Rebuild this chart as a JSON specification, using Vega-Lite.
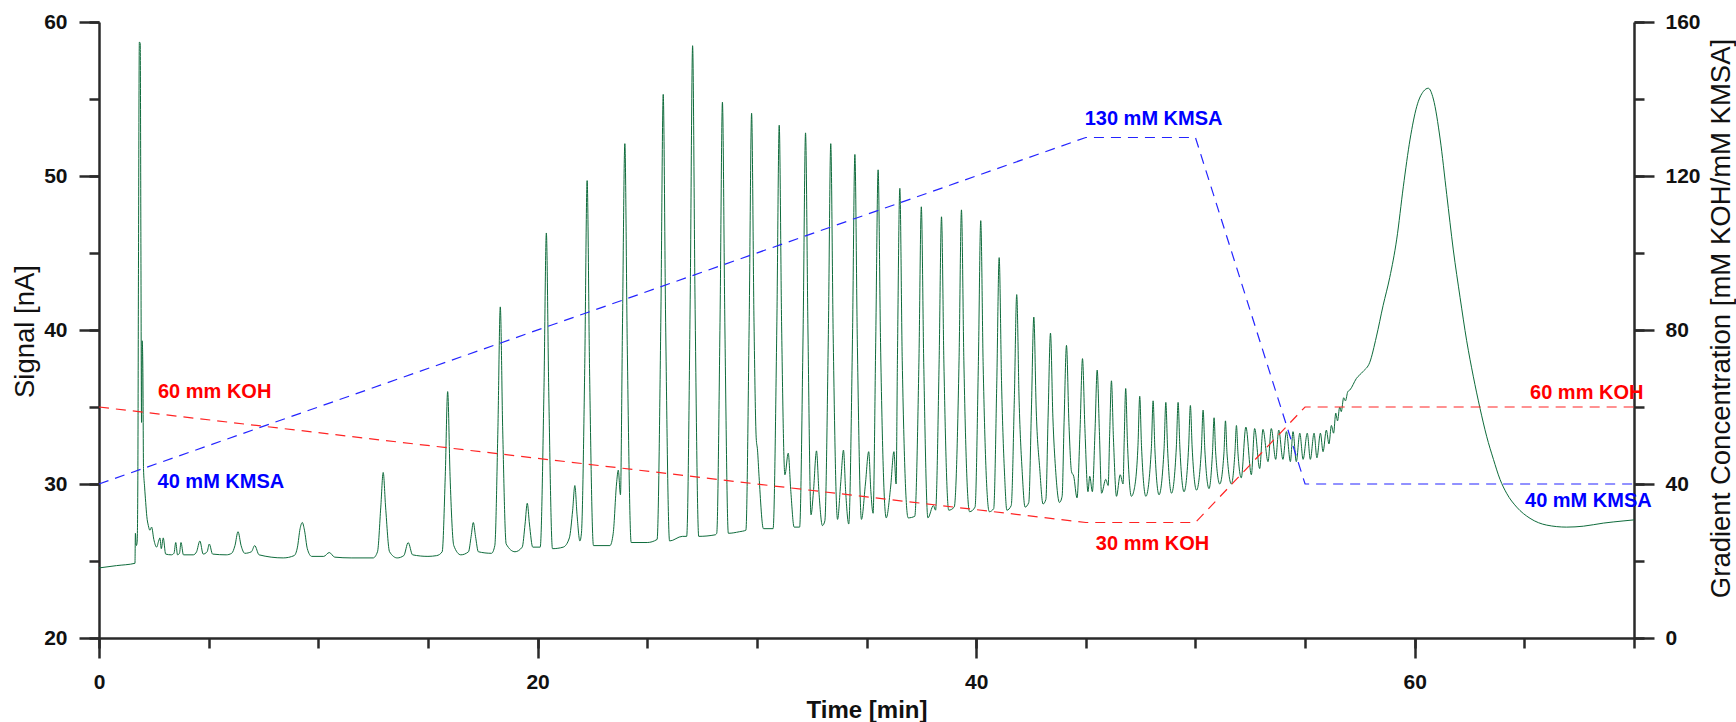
{
  "$schema": "https://vega.github.io/schema/vega-lite/v6.json",
  "width": 1535,
  "height": 616,
  "autosize": {"type": "none"},
  "padding": {"left": 99, "top": 22, "right": 102, "bottom": 84},
  "background": "white",
  "config": {
    "view": {"stroke": null},
    "font": "Liberation Sans",
    "axis": {
      "grid": false,
      "domainColor": "#2a2a2a",
      "domainWidth": 2.5,
      "tickColor": "#2a2a2a",
      "tickWidth": 2.5,
      "labelFont": "Liberation Sans",
      "labelFontWeight": "bold",
      "labelFontSize": 21,
      "labelColor": "#111111",
      "labelFlush": false,
      "labelOverlap": false,
      "titleFont": "Liberation Sans",
      "titleColor": "#111111"
    }
  },
  "datasets": {
    "signal": [
      {"t":0,"s":24.55},{"t":0.8,"s":24.7},{"t":1.64,"s":24.85},{"t":1.66,"s":26.8},{"t":1.7,"s":26.0},{"t":1.74,"s":26.2},{"t":1.77,"s":30},{"t":1.8,"s":44},{"t":1.84,"s":58.7},{"t":1.88,"s":58.6},{"t":1.91,"s":46},{"t":1.94,"s":34},{"t":1.97,"s":39.3},{"t":2.0,"s":37.5},{"t":2.03,"s":31},{"t":2.08,"s":29.8},{"t":2.13,"s":28.8},{"t":2.18,"s":27.9},{"t":2.25,"s":27.3},{"t":2.32,"s":27.0},{"t":2.4,"s":27.2},{"t":2.5,"s":26.4},{"t":2.63,"s":25.9},{"t":2.72,"s":26.3},{"t":2.78,"s":26.5},{"t":2.84,"s":25.8},{"t":2.93,"s":26.5},{"t":3.04,"s":25.45},{"t":3.3,"s":25.4},{"t":3.42,"s":25.5},{"t":3.5,"s":26.2},{"t":3.58,"s":25.4},{"t":3.67,"s":25.5},{"t":3.74,"s":26.2},{"t":3.85,"s":25.4},{"t":4.3,"s":25.4},{"t":4.45,"s":25.6},{"t":4.6,"s":26.3},{"t":4.75,"s":25.45},{"t":4.93,"s":25.6},{"t":5.03,"s":26.1},{"t":5.18,"s":25.45},{"t":5.8,"s":25.4},{"t":6.05,"s":25.5},{"t":6.2,"s":26.0},{"t":6.34,"s":26.9},{"t":6.48,"s":26.0},{"t":6.65,"s":25.5},{"t":6.95,"s":25.6},{"t":7.1,"s":26.0},{"t":7.3,"s":25.4},{"t":8.4,"s":25.2},{"t":8.9,"s":25.35},{"t":9.05,"s":25.9},{"t":9.17,"s":27.1},{"t":9.27,"s":27.5},{"t":9.37,"s":27.0},{"t":9.5,"s":25.8},{"t":9.7,"s":25.3},{"t":10.25,"s":25.3},{"t":10.5,"s":25.55},{"t":10.75,"s":25.25},{"t":11.5,"s":25.2},{"t":12.5,"s":25.2},{"t":12.7,"s":25.6},{"t":12.85,"s":28.5},{"t":12.96,"s":30.75},{"t":13.07,"s":28.5},{"t":13.25,"s":25.6},{"t":13.6,"s":25.2},{"t":13.9,"s":25.35},{"t":14.1,"s":26.2},{"t":14.3,"s":25.4},{"t":15.0,"s":25.3},
      {"t":15.4,"s":25.35},{"t":15.65,"s":25.6},{"t":15.79,"s":30.5},{"t":15.9,"s":36.0},{"t":16.01,"s":30.5},{"t":16.18,"s":26.0},{"t":16.5,"s":25.4},{"t":16.85,"s":25.6},{"t":16.97,"s":26.6},{"t":17.07,"s":27.5},{"t":17.17,"s":26.6},{"t":17.3,"s":25.6},{"t":17.9,"s":25.5},{"t":18.05,"s":26.0},{"t":18.19,"s":33.5},{"t":18.3,"s":41.5},{"t":18.41,"s":33.5},{"t":18.57,"s":26.1},{"t":18.97,"s":25.6},{"t":19.3,"s":25.9},{"t":19.43,"s":27.4},{"t":19.53,"s":28.75},{"t":19.63,"s":27.4},{"t":19.78,"s":25.9},{"t":20.12,"s":25.9},{"t":20.29,"s":36.0},{"t":20.4,"s":46.3},{"t":20.51,"s":36.0},{"t":20.68,"s":25.8},{"t":21.17,"s":25.9},{"t":21.45,"s":26.5},{"t":21.6,"s":28.3},{"t":21.7,"s":29.9},{"t":21.8,"s":28.0},{"t":21.93,"s":26.3},{"t":22.0,"s":26.8},{"t":22.15,"s":37.5},{"t":22.26,"s":49.7},{"t":22.37,"s":37.5},{"t":22.55,"s":26.0},{"t":23.3,"s":26.0},{"t":23.45,"s":26.8},{"t":23.6,"s":30.0},{"t":23.68,"s":30.9},{"t":23.78,"s":29.3},{"t":23.87,"s":40.0},{"t":23.98,"s":52.1},{"t":24.09,"s":39.0},{"t":24.27,"s":26.2},{"t":25.0,"s":26.2},{"t":25.45,"s":26.4},{"t":25.62,"s":40.5},{"t":25.73,"s":55.3},{"t":25.84,"s":40.5},{"t":26.02,"s":26.3},{"t":26.6,"s":26.6},{"t":26.8,"s":26.6},{"t":26.96,"s":42.0},{"t":27.07,"s":58.46},{"t":27.18,"s":42.0},{"t":27.35,"s":26.6},{"t":28.1,"s":26.7},{"t":28.17,"s":26.8},{"t":28.32,"s":40.5},{"t":28.43,"s":54.8},{"t":28.54,"s":40.5},{"t":28.7,"s":26.8},{"t":29.2,"s":26.9},{"t":29.5,"s":27.0},
      {"t":29.65,"s":40.5},{"t":29.76,"s":54.08},{"t":29.87,"s":40.5},{"t":29.97,"s":33.0},{"t":30.03,"s":32.2},{"t":30.1,"s":30.5},{"t":30.3,"s":27.1},{"t":30.74,"s":27.1},{"t":30.91,"s":40.2},{"t":31.02,"s":53.3},{"t":31.13,"s":40.2},{"t":31.28,"s":30.6},{"t":31.43,"s":32.0},{"t":31.55,"s":29.5},{"t":31.7,"s":27.2},{"t":31.95,"s":27.2},{"t":32.11,"s":40.0},{"t":32.22,"s":52.8},{"t":32.33,"s":40.0},{"t":32.47,"s":28.0},{"t":32.58,"s":29.5},{"t":32.72,"s":32.15},{"t":32.83,"s":29.5},{"t":32.99,"s":27.3},{"t":33.1,"s":27.6},{"t":33.26,"s":39.7},{"t":33.37,"s":52.1},{"t":33.48,"s":39.7},{"t":33.68,"s":27.7},{"t":33.82,"s":30.0},{"t":33.95,"s":32.2},{"t":34.05,"s":29.5},{"t":34.19,"s":27.4},{"t":34.36,"s":39.4},{"t":34.47,"s":51.4},{"t":34.58,"s":39.4},{"t":34.77,"s":27.7},{"t":34.95,"s":30.0},{"t":35.1,"s":32.1},{"t":35.2,"s":29.5},{"t":35.3,"s":28.1},{"t":35.42,"s":39.2},{"t":35.53,"s":50.4},{"t":35.64,"s":39.2},{"t":35.9,"s":27.8},{"t":36.1,"s":29.8},{"t":36.25,"s":32.1},{"t":36.35,"s":30.0},{"t":36.41,"s":38.0},{"t":36.52,"s":49.2},{"t":36.63,"s":38.0},{"t":36.9,"s":27.8},{"t":37.2,"s":27.9},{"t":37.39,"s":37.9},{"t":37.5,"s":48.0},{"t":37.61,"s":37.9},{"t":37.8,"s":27.8},{"t":38.05,"s":28.6},{"t":38.15,"s":28.3},{"t":38.31,"s":37.8},{"t":38.42,"s":47.35},{"t":38.53,"s":37.8},{"t":38.75,"s":28.3},{"t":39.0,"s":28.5},{"t":39.22,"s":38.0},{"t":39.33,"s":47.8},{"t":39.44,"s":38.0},{"t":39.7,"s":28.2},{"t":39.95,"s":28.5},{"t":40.1,"s":37.7},{"t":40.21,"s":47.1},{"t":40.32,"s":37.7},{"t":40.6,"s":28.2},{"t":40.8,"s":28.4},{"t":40.94,"s":36.5},{"t":41.05,"s":44.7},{"t":41.16,"s":36.5},{"t":41.3,"s":30.5},{"t":41.4,"s":28.3},{"t":41.6,"s":28.6},{"t":41.74,"s":35.4},{"t":41.85,"s":42.3},{"t":41.96,"s":35.4},{"t":42.1,"s":30.8},{"t":42.23,"s":28.5},{"t":42.4,"s":28.8},{"t":42.52,"s":34.8},{"t":42.63,"s":40.84},{"t":42.74,"s":34.8},{"t":42.9,"s":31.0},{"t":43.05,"s":28.7},{"t":43.18,"s":29.0},{"t":43.28,"s":34.3},{"t":43.39,"s":39.8},{"t":43.5,"s":34.3},{"t":43.62,"s":31.0},{"t":43.8,"s":28.8},{"t":43.92,"s":29.2},{"t":44.01,"s":34.0},{"t":44.12,"s":39.0},{"t":44.23,"s":34.0},{"t":44.35,"s":30.8},{"t":44.45,"s":30.5},{"t":44.6,"s":29.1},
      {"t":44.74,"s":33.6},{"t":44.85,"s":38.14},{"t":44.96,"s":33.6},{"t":45.1,"s":29.5},{"t":45.18,"s":30.5},{"t":45.3,"s":29.5},{"t":45.42,"s":33.4},{"t":45.52,"s":37.4},{"t":45.62,"s":33.4},{"t":45.72,"s":29.4},{"t":45.91,"s":30.3},{"t":46.02,"s":29.9},{"t":46.09,"s":33.3},{"t":46.17,"s":36.7},{"t":46.26,"s":33.0},{"t":46.4,"s":29.2},{"t":46.57,"s":30.6},{"t":46.7,"s":30.0},{"t":46.75,"s":32.7},{"t":46.82,"s":36.2},{"t":46.9,"s":32.7},{"t":47.08,"s":29.2},{"t":47.2,"s":29.6},{"t":47.38,"s":32.5},{"t":47.46,"s":35.7},{"t":47.54,"s":32.5},{"t":47.74,"s":29.2},{"t":47.99,"s":32.3},{"t":48.07,"s":35.4},{"t":48.15,"s":32.3},{"t":48.34,"s":29.3},{"t":48.57,"s":32.3},{"t":48.65,"s":35.3},{"t":48.73,"s":32.3},{"t":48.91,"s":29.4},{"t":49.13,"s":32.4},{"t":49.21,"s":35.3},{"t":49.29,"s":32.4},{"t":49.48,"s":29.5},{"t":49.69,"s":32.4},{"t":49.77,"s":35.1},{"t":49.85,"s":32.4},{"t":50.05,"s":29.6},{"t":50.27,"s":32.2},{"t":50.35,"s":34.8},{"t":50.43,"s":32.2},{"t":50.62,"s":29.7},{"t":50.78,"s":32.1},{"t":50.85,"s":34.3},{"t":50.92,"s":32.1},{"t":51.11,"s":30.0},{"t":51.3,"s":32.0},{"t":51.37,"s":34.1},{"t":51.44,"s":32.0},{"t":51.64,"s":30.0},{"t":51.8,"s":32.0},{"t":51.87,"s":33.8},{"t":51.94,"s":32.0},{"t":52.09,"s":30.4},{"t":52.3,"s":33.7},{"t":52.55,"s":30.6},{"t":52.7,"s":33.6},{"t":52.93,"s":31.0},{"t":53.08,"s":33.55},{"t":53.31,"s":31.45},{"t":53.46,"s":33.6},{"t":53.66,"s":31.6},{"t":53.8,"s":33.5},{"t":53.99,"s":31.6},{"t":54.15,"s":33.4},{"t":54.33,"s":31.45},{"t":54.45,"s":33.4},{"t":54.6,"s":31.45},{"t":54.76,"s":33.3},{"t":54.91,"s":31.6},{"t":55.1,"s":33.3},{"t":55.24,"s":31.6},{"t":55.41,"s":33.3},{"t":55.54,"s":31.7},{"t":55.7,"s":33.3},{"t":55.82,"s":32.1},{"t":55.97,"s":33.5},{"t":56.09,"s":32.6},{"t":56.2,"s":33.8},{"t":56.3,"s":33.3},{"t":56.4,"s":34.6},{"t":56.48,"s":34.1},{"t":56.58,"s":35.0},{"t":56.65,"s":34.7},{"t":56.76,"s":35.6},{"t":56.84,"s":35.4},{"t":56.95,"s":36.0},
      {"t":57.04,"s":36.1},{"t":57.34,"s":36.85},{"t":57.64,"s":37.3},{"t":57.95,"s":37.9},{"t":58.25,"s":39.55},{"t":58.56,"s":41.6},{"t":58.86,"s":43.4},{"t":59.18,"s":45.9},{"t":59.48,"s":49.3},{"t":59.79,"s":52.4},{"t":60.09,"s":54.5},{"t":60.4,"s":55.5},{"t":60.62,"s":55.7},{"t":60.85,"s":55.0},{"t":61.16,"s":52.4},{"t":61.46,"s":48.8},{"t":61.76,"s":45.2},{"t":62.07,"s":42.1},{"t":62.37,"s":39.3},{"t":62.67,"s":37.0},{"t":62.98,"s":34.9},{"t":63.28,"s":33.1},{"t":63.59,"s":31.6},{"t":63.89,"s":30.3},{"t":64.19,"s":29.4},{"t":64.65,"s":28.5},{"t":65.26,"s":27.77},{"t":66.02,"s":27.33},{"t":66.93,"s":27.2},{"t":67.69,"s":27.26},{"t":68.6,"s":27.46},{"t":69.5,"s":27.6},{"t":70,"s":27.67}
    ],
    "gradient": [
      {"g":"KOH","t":0,"c":60},{"g":"KOH","t":45,"c":30},{"g":"KOH","t":50,"c":30},{"g":"KOH","t":55,"c":60},{"g":"KOH","t":70,"c":60},
      {"g":"KMSA","t":0,"c":40},{"g":"KMSA","t":45,"c":130},{"g":"KMSA","t":50,"c":130},{"g":"KMSA","t":55,"c":40},{"g":"KMSA","t":70,"c":40}
    ],
    "labels": [
      {"g":"KOH","t":2.69,"c":64,"label":"60 mm KOH"},
      {"g":"KMSA","t":2.67,"c":40.6,"label":"40 mM KMSA"},
      {"g":"KMSA","t":44.95,"c":134.8,"label":"130 mM KMSA"},
      {"g":"KOH","t":45.46,"c":24.5,"label":"30 mm KOH"},
      {"g":"KOH","t":65.26,"c":63.6,"label":"60 mm KOH"},
      {"g":"KMSA","t":65.03,"c":35.5,"label":"40 mM KMSA"}
    ]
  },
  "layer": [
    {
      "data": {"name": "signal"},
      "mark": {"type": "line", "interpolate": "monotone", "stroke": "#0e6b3b", "strokeWidth": 1},
      "encoding": {
        "x": {"field": "t", "type": "quantitative", "scale": {"domain": [0, 70], "nice": false, "zero": false},
          "axis": {"orient": "bottom", "values": [0, 20, 40, 60], "tickSize": 20, "labelPadding": 30.5, "labelBaseline": "alphabetic",
            "title": "Time [min]", "titleFontSize": 24, "titleFontWeight": "bold", "titleBaseline": "alphabetic", "titleAlign": "center", "titleX": 767.5, "titleY": 79}},
        "y": {"field": "s", "type": "quantitative", "scale": {"domain": [20, 60], "nice": false, "zero": false},
          "axis": {"orient": "left", "values": [20, 30, 40, 50, 60], "tickSize": 20, "labelPadding": 12,
            "title": "Signal [nA]", "titleFontSize": 27.5, "titleFontWeight": "normal", "titleAngle": 270, "titleBaseline": "alphabetic", "titleAlign": "center", "titleX": -66, "titleY": 309}}
      }
    },
    {
      "data": {"name": "signal"},
      "mark": {"type": "line", "strokeOpacity": 0},
      "encoding": {
        "x": {"field": "t", "type": "quantitative", "scale": {"domain": [0, 70], "nice": false, "zero": false},
          "axis": {"orient": "bottom", "values": [0, 5, 10, 15, 20, 25, 30, 35, 40, 45, 50, 55, 60, 65, 70], "tickSize": 10, "labels": false, "domain": false, "title": null}},
        "y": {"field": "s", "type": "quantitative", "scale": {"domain": [20, 60], "nice": false, "zero": false},
          "axis": {"orient": "left", "values": [20, 25, 30, 35, 40, 45, 50, 55, 60], "tickSize": 10, "labels": false, "domain": false, "title": null}}
      }
    },
    {
      "data": {"name": "gradient"},
      "mark": {"type": "line", "strokeDash": [10, 7], "strokeWidth": 1.2},
      "encoding": {
        "x": {"field": "t", "type": "quantitative", "axis": null},
        "y": {"field": "c", "type": "quantitative", "scale": {"domain": [0, 160], "nice": false, "zero": false},
          "axis": {"orient": "right", "values": [0, 40, 80, 120, 160], "tickSize": 20, "labelPadding": 11,
            "title": "Gradient Concentration [mM KOH/mM KMSA]", "titleFontSize": 27.5, "titleFontWeight": "normal", "titleAngle": 270, "titleBaseline": "alphabetic", "titleAlign": "center", "titleX": 95, "titleY": 296}},
        "stroke": {"field": "g", "type": "nominal", "scale": {"domain": ["KOH", "KMSA"], "range": ["#ff2424", "#2424ff"]}, "legend": null}
      }
    },
    {
      "data": {"name": "gradient"},
      "mark": {"type": "line", "strokeOpacity": 0},
      "encoding": {
        "x": {"field": "t", "type": "quantitative", "axis": null},
        "y": {"field": "c", "type": "quantitative", "scale": {"domain": [0, 160], "nice": false, "zero": false},
          "axis": {"orient": "right", "values": [0, 20, 40, 60, 80, 100, 120, 140, 160], "tickSize": 10, "labels": false, "domain": false, "title": null}},
        "detail": {"field": "g", "type": "nominal"}
      }
    },
    {
      "data": {"name": "labels"},
      "mark": {"type": "text", "align": "left", "baseline": "middle", "font": "Liberation Sans", "fontWeight": "bold", "fontSize": 20},
      "encoding": {
        "x": {"field": "t", "type": "quantitative", "axis": null},
        "y": {"field": "c", "type": "quantitative", "scale": {"domain": [0, 160], "nice": false, "zero": false}, "axis": null},
        "text": {"field": "label", "type": "nominal"},
        "fill": {"field": "g", "type": "nominal", "scale": {"domain": ["KOH", "KMSA"], "range": ["#ff0000", "#0000ff"]}, "legend": null}
      }
    }
  ],
  "resolve": {
    "scale": {"y": "independent"},
    "axis": {"x": "independent", "y": "independent"}
  }
}
